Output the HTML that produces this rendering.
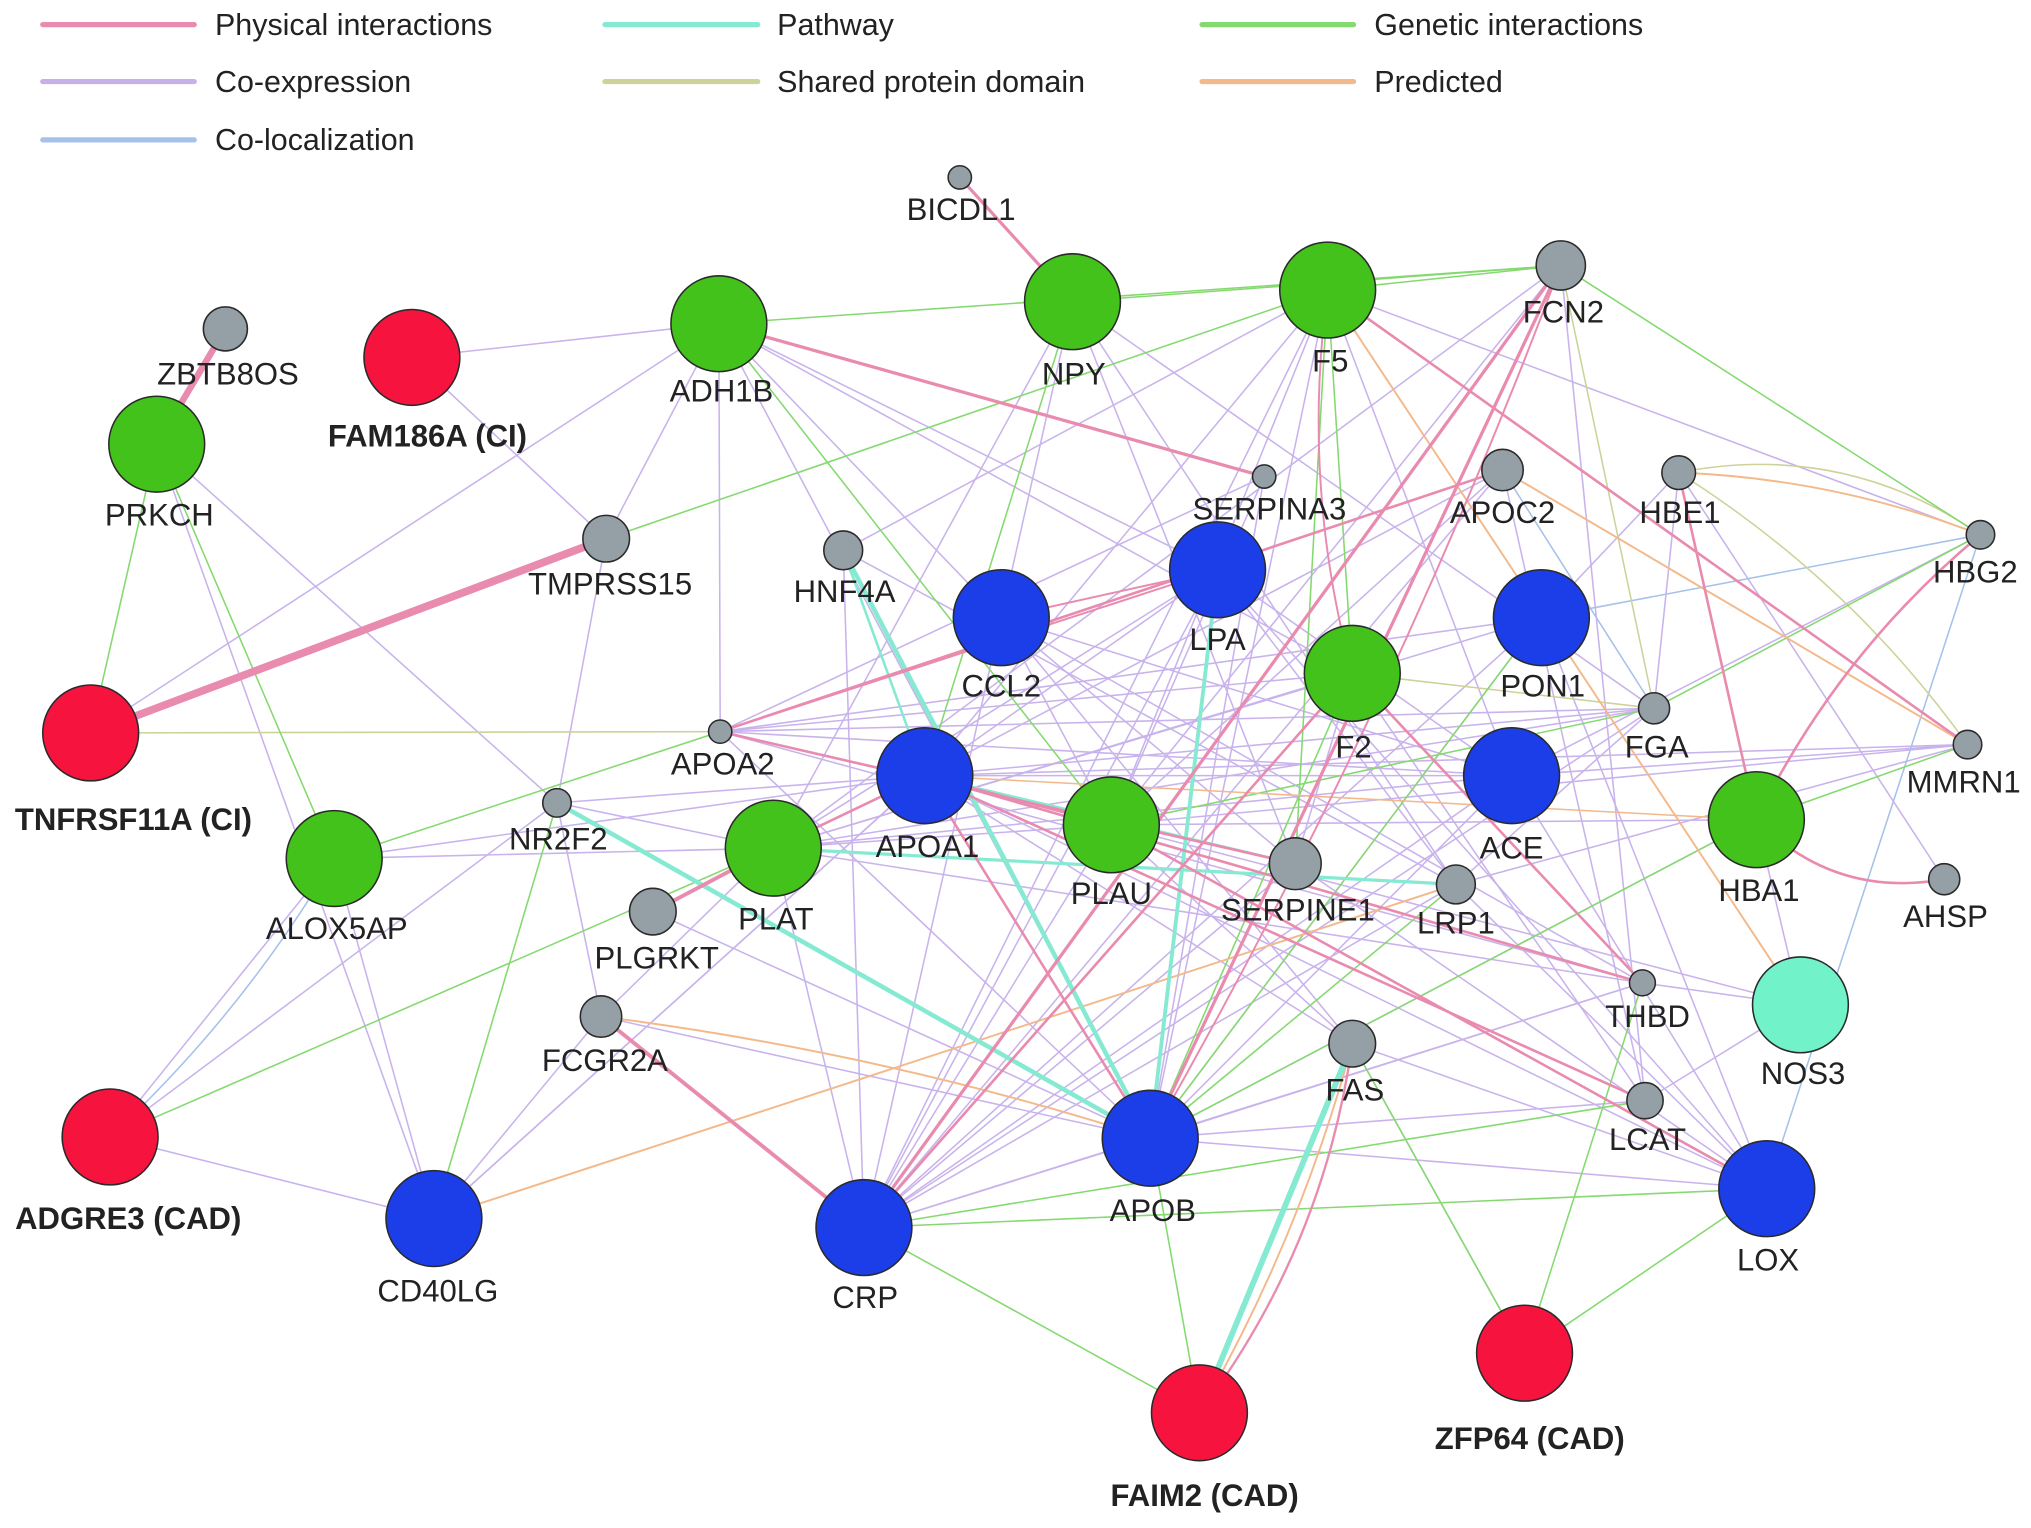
<!DOCTYPE html>
<html><head><meta charset="utf-8"><style>
html,body{margin:0;padding:0;background:#fff;}
svg{display:block;}
text{font-family:"Liberation Sans",sans-serif;font-size:24px;fill:#222;text-anchor:middle;}
.b{font-weight:bold;font-size:24px;}
.lg{text-anchor:start;font-size:23.5px;}
</style></head><body>
<svg id="s" width="2031" height="1528" viewBox="0 0 1568 1180" preserveAspectRatio="none" xmlns="http://www.w3.org/2000/svg">
<g stroke-width="4" stroke-linecap="round">
<line x1="33" y1="19" x2="150" y2="19" stroke="#e98aaf"/>
<line x1="467" y1="19" x2="585" y2="19" stroke="#86ead3"/>
<line x1="928" y1="19" x2="1045" y2="19" stroke="#84d96f"/>
<line x1="33" y1="63" x2="150" y2="63" stroke="#c7b0ea"/>
<line x1="467" y1="63" x2="585" y2="63" stroke="#cdd298"/>
<line x1="928" y1="63" x2="1045" y2="63" stroke="#f3b98a"/>
<line x1="33" y1="108" x2="150" y2="108" stroke="#a6c1ea"/>
</g>
<text class="lg" x="166" y="27">Physical interactions</text>
<text class="lg" x="600" y="27">Pathway</text>
<text class="lg" x="1061" y="27">Genetic interactions</text>
<text class="lg" x="166" y="71">Co-expression</text>
<text class="lg" x="600" y="71">Shared protein domain</text>
<text class="lg" x="1061" y="71">Predicted</text>
<text class="lg" x="166" y="116">Co-localization</text>
<g id="edges" fill="none"></g>
<g id="nodes" stroke="#2a2a2a" stroke-width="1.2"></g>
<g>
<text x="742" y="170">BICDL1</text>
<text x="176" y="297">ZBTB8OS</text>
<text class="b" x="330" y="345">FAM186A (CI)</text>
<text x="123" y="406">PRKCH</text>
<text x="557" y="310">ADH1B</text>
<text x="829" y="297">NPY</text>
<text x="1027" y="287">F5</text>
<text x="1207" y="249">FCN2</text>
<text x="980" y="401">SERPINA3</text>
<text x="1160" y="404">APOC2</text>
<text x="1297" y="404">HBE1</text>
<text x="1525" y="450">HBG2</text>
<text x="471" y="459">TMPRSS15</text>
<text x="652" y="465">HNF4A</text>
<text x="940" y="502">LPA</text>
<text x="773" y="538">CCL2</text>
<text x="1191" y="538">PON1</text>
<text x="1045" y="585">F2</text>
<text x="1279" y="585">FGA</text>
<text x="1516" y="612">MMRN1</text>
<text class="b" x="103" y="641">TNFRSF11A (CI)</text>
<text x="558" y="598">APOA2</text>
<text x="716" y="662">APOA1</text>
<text x="1167" y="663">ACE</text>
<text x="1358" y="696">HBA1</text>
<text x="431" y="656">NR2F2</text>
<text x="260" y="725">ALOX5AP</text>
<text x="599" y="718">PLAT</text>
<text x="858" y="698">PLAU</text>
<text x="1002" y="711">SERPINE1</text>
<text x="1124" y="721">LRP1</text>
<text x="1502" y="716">AHSP</text>
<text x="507" y="748">PLGRKT</text>
<text x="1272" y="793">THBD</text>
<text x="1392" y="837">NOS3</text>
<text x="467" y="827">FCGR2A</text>
<text x="1046" y="850">FAS</text>
<text x="1272" y="888">LCAT</text>
<text class="b" x="99" y="949">ADGRE3 (CAD)</text>
<text x="890" y="943">APOB</text>
<text x="1365" y="981">LOX</text>
<text x="338" y="1005">CD40LG</text>
<text x="668" y="1010">CRP</text>
<text class="b" x="1181" y="1119">ZFP64 (CAD)</text>
<text class="b" x="930" y="1163">FAIM2 (CAD)</text>
</g>
</svg>
<script>
var N={BICDL1:[741,137,9,'g'],ZBTB8OS:[174,254,17,'g'],FAM186A:[318,276,37,'r'],PRKCH:[121,343,37,'G'],ADH1B:[555,250,37,'G'],NPY:[828,233,37,'G'],F5:[1025,224,37,'G'],FCN2:[1205,205,19,'g'],SERPINA3:[976,368,9,'g'],APOC2:[1160,363,16,'g'],HBE1:[1296,365,13,'g'],HBG2:[1529,413,11,'g'],TMPRSS15:[468,416,18,'g'],HNF4A:[651,425,15,'g'],LPA:[940,440,37,'b'],CCL2:[773,477,37,'b'],PON1:[1190,477,37,'b'],F2:[1044,520,37,'G'],FGA:[1277,547,12,'g'],MMRN1:[1519,575,11,'g'],TNFRSF11A:[70,566,37,'r'],APOA2:[556,565,9,'g'],APOA1:[714,599,37,'b'],ACE:[1167,599,37,'b'],HBA1:[1356,633,37,'G'],NR2F2:[430,620,11,'g'],ALOX5AP:[258,663,37,'G'],PLAT:[597,655,37,'G'],PLAU:[858,637,37,'G'],SERPINE1:[1000,667,20,'g'],LRP1:[1124,683,15,'g'],AHSP:[1501,679,12,'g'],PLGRKT:[504,704,18,'g'],THBD:[1268,759,10,'g'],NOS3:[1390,776,37,'t'],FCGR2A:[464,785,16,'g'],FAS:[1044,806,18,'g'],LCAT:[1270,850,14,'g'],ADGRE3:[85,878,37,'r'],APOB:[888,879,37,'b'],LOX:[1364,918,37,'b'],CD40LG:[335,941,37,'b'],CRP:[667,948,37,'b'],ZFP64:[1177,1045,37,'r'],FAIM2:[926,1091,37,'r']};
var C={p:'#e98aaf',t:'#86ead3',G:'#84d96f',c:'#c9b3ec',s:'#cdd298',o:'#f3b98a',l:'#a6c1ea'};
var E=[
['p','TNFRSF11A','TMPRSS15',6],['p','ZBTB8OS','PRKCH',5],['p','BICDL1','NPY',2.5],['p','PLAT','PLGRKT',3],['p','FCGR2A','CRP',3],
['p','CRP','FCN2',2.5],['p','APOB','FCN2',2.5],['p','ADH1B','SERPINA3',2.5],['p','F5','MMRN1',2],['p','HBE1','HBA1',2],['p','HBA1','AHSP',2,40],['p','HBA1','HBG2',2,-30],
['p','PLAT','APOA1',2],['p','APOA1','THBD',2],['p','APOA1','LCAT',2],['p','PLAU','LOX',2],['p','APOA2','SERPINE1',2],['p','F2','THBD',2],['p','FAIM2','FAS',1.8,40],['p','APOA2','APOC2',2],['p','CRP','F2',2],['p','APOB','APOA1',2],['p','F5','F2',1.5,30],['p','CCL2','LPA',1.5],['p','APOA1','PLAU',2],['p','APOB','FCN2',1.5,30],['p','APOA2','LPA',1.5],
['t','HNF4A','APOB',3.5],['t','NR2F2','APOB',3.5],['t','PLAT','LRP1',2.5],['t','LPA','APOB',3],['t','FAS','FAIM2',4.5],['t','APOA1','SERPINE1',2],['t','HNF4A','APOA1',2],
['o','F5','NOS3',1.5],['o','APOC2','MMRN1',1.5],['o','HBE1','HBG2',1.5,-20],['o','FCGR2A','APOB',1.5,-20],['o','CD40LG','LRP1',1.5],['o','FAS','FAIM2',1.5,-20],['o','APOA1','HBA1',1.2],
['G','NPY','FCN2'],['G','ADH1B','FCN2'],['G','PRKCH','TNFRSF11A'],['G','PRKCH','ALOX5AP'],['G','ADGRE3','PLAT'],['G','CD40LG','NR2F2'],['G','CRP','FAIM2'],['G','APOB','FAIM2'],['G','LOX','ZFP64'],['G','ZFP64','FAS'],['G','F5','SERPINE1'],['G','FCN2','HBG2'],['G','ALOX5AP','APOA2'],['G','APOB','PON1'],['G','APOB','F2'],['G','CRP','LCAT'],['G','APOB','HBA1'],['G','F5','F2'],['G','ADH1B','PLAU'],['G','NPY','APOA1'],['G','ZFP64','THBD'],['G','CRP','LOX'],['G','HBA1','MMRN1'],['G','F5','FCN2'],['G','TMPRSS15','F5'],['G','FGA','HBG2'],['G','APOB','LRP1'],['G','PLAU','FGA'],
['s','HBE1','MMRN1',1.2,-30],['s','FCN2','FGA',1.2],['s','TNFRSF11A','APOA2',1.2],['s','F2','FGA',1.2],['s','HBE1','HBG2',1.2,-50],
['l','ADGRE3','ALOX5AP',1.2,20],['l','LOX','HBG2',1.2],['l','PON1','HBG2',1.2],['l','APOC2','FGA',1.2],
['c','TNFRSF11A','TMPRSS15'],['c','PRKCH','NR2F2'],['c','PRKCH','CD40LG'],['c','TMPRSS15','ADH1B'],['c','TMPRSS15','NR2F2'],['c','NR2F2','ADGRE3'],['c','ADGRE3','ALOX5AP'],['c','ALOX5AP','PLAT'],['c','ALOX5AP','CD40LG'],['c','FAM186A','ADH1B'],['c','TNFRSF11A','ADH1B'],['c','ADH1B','APOA2'],['c','ADH1B','LPA'],['c','ADH1B','APOB'],['c','ADH1B','F2'],['c','ADH1B','CCL2'],['c','NPY','FGA'],['c','NPY','PLAT'],['c','NPY','SERPINE1'],['c','F5','APOA1'],['c','F5','ACE'],['c','F5','APOB'],['c','F5','HBG2'],['c','FCN2','PLAT'],['c','FCN2','PLAU'],['c','FCN2','LCAT'],['c','SERPINA3','APOA2'],['c','SERPINA3','PLAU'],['c','APOC2','APOA1'],['c','APOC2','LCAT'],['c','HBE1','PON1'],['c','HBE1','AHSP'],['c','HBG2','ACE'],['c','HNF4A','CRP'],['c','HNF4A','LRP1'],['c','HNF4A','F5'],['c','LPA','CRP'],['c','LPA','PLAT'],['c','LPA','LRP1'],['c','CCL2','ACE'],['c','CCL2','SERPINE1'],['c','CCL2','CRP'],['c','CCL2','FAS'],['c','PON1','APOA2'],['c','PON1','PLAT'],['c','PON1','APOB'],['c','F2','PLAT'],['c','F2','LCAT'],['c','F2','CRP'],['c','FGA','APOA1'],['c','FGA','CRP'],['c','MMRN1','PLAU'],['c','MMRN1','ACE'],['c','APOA2','THBD'],['c','APOA2','APOB'],['c','APOA1','FAS'],['c','APOA1','LOX'],['c','APOA1','CD40LG'],['c','ACE','PLAT'],['c','ACE','CRP'],['c','ACE','LOX'],['c','HBA1','PLAU'],['c','HBA1','NOS3'],['c','NR2F2','PLAT'],['c','NR2F2','APOA1'],['c','NR2F2','FCGR2A'],['c','PLAT','THBD'],['c','PLAT','CRP'],['c','PLAT','FCGR2A'],['c','PLAU','NOS3'],['c','PLAU','FAS'],['c','PLAU','CRP'],['c','SERPINE1','LOX'],['c','SERPINE1','CRP'],['c','LRP1','LOX'],['c','LRP1','CRP'],['c','PLGRKT','APOB'],['c','THBD','APOB'],['c','THBD','NOS3'],['c','NOS3','LCAT'],['c','FCGR2A','CD40LG'],['c','FCGR2A','APOB'],['c','FAS','LOX'],['c','FAS','ZFP64'],['c','LCAT','APOB'],['c','ADGRE3','CD40LG'],['c','CD40LG','APOA1'],['c','LOX','APOB'],['c','LOX','PON1'],['c','CRP','APOB'],['c','F2','SERPINE1'],['c','LPA','ACE'],['c','CCL2','PLAU'],['c','APOC2','PLAU'],['c','HBE1','FGA'],['c','FGA','LRP1'],['c','MMRN1','LRP1'],['c','APOA2','ACE'],['c','APOA2','FGA'],['c','PLAT','PLAU'],['c','APOA1','ACE'],['c','ALOX5AP','APOA1'],['c','FAM186A','TMPRSS15'],
['c','NPY','LRP1'],['c','NPY','CCL2'],['c','F5','PLAU'],['c','F5','CRP'],['c','LPA','APOA1'],['c','PON1','CRP'],['c','ACE','APOB'],['c','HBA1','APOB'],['c','SERPINA3','APOB'],['c','APOC2','CRP'],['c','FGA','PLAT'],['c','MMRN1','APOA1'],['c','THBD','CRP'],['c','F2','APOA2'],['c','CCL2','THBD'],['c','LPA','LOX']
];
var ns='http://www.w3.org/2000/svg',eg=document.getElementById('edges'),ng=document.getElementById('nodes');
var order={c:0,l:1,s:2,G:3,o:4,t:5,p:6};
E.sort(function(a,b){return order[a[0]]-order[b[0]];});
E.forEach(function(e){var a=N[e[1]],b=N[e[2]],w=e[3]||1.2,cv=e[4]||0;
var p=document.createElementNS(ns,'path');
var mx=(a[0]+b[0])/2,my=(a[1]+b[1])/2,dx=b[0]-a[0],dy=b[1]-a[1],L=Math.sqrt(dx*dx+dy*dy)||1;
var qx=mx-dy/L*cv,qy=my+dx/L*cv;
p.setAttribute('d','M'+a[0]+' '+a[1]+' Q'+qx+' '+qy+' '+b[0]+' '+b[1]);
p.setAttribute('stroke',C[e[0]]);p.setAttribute('stroke-width',w);eg.appendChild(p);});
var col={g:'#95a0a6',r:'#f6143f',G:'#44c21c',b:'#1b3ee8',t:'#72f2c8'};
for(var k in N){var n=N[k],c=document.createElementNS(ns,'circle');c.setAttribute('cx',n[0]);c.setAttribute('cy',n[1]);c.setAttribute('r',n[2]);c.setAttribute('fill',col[n[3]]);ng.appendChild(c);}
</script>
</body></html>
